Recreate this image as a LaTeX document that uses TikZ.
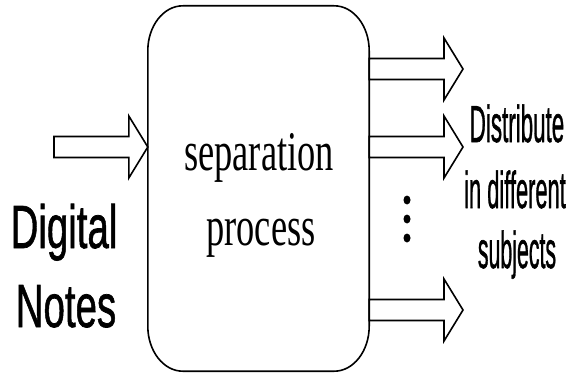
\documentclass[tikz,border=0pt]{standalone}
\usepackage{fontspec}
\usepackage{graphicx}
\setmainfont{Liberation Serif}
\newfontfamily\sansx[FakeBold=1.2]{Liberation Sans}
\usetikzlibrary{calc}
\tikzset{
  outline/.style={draw=black, line width=1.6pt, line join=round},
  blockarrow/.style={draw=black, fill=white, line width=1.6pt, line join=miter},
  lbl/.style={inner sep=0pt, anchor=base},
}
\newcommand\blkarrow[2]{%
  \draw[blockarrow] ($(#1)+(0,10.5)$) -- ($(#2)+(-19,10.5)$) -- ($(#2)+(-19,31)$)
    -- (#2) -- ($(#2)+(-19,-31)$) -- ($(#2)+(-19,-10.5)$) -- ($(#1)+(0,-10.5)$) -- cycle;}
\begin{document}
\begin{tikzpicture}[x=1pt,y=1pt]
\useasboundingbox (0,0) rectangle (570,376);
\fill[white] (0,0) rectangle (570,376);
% main box (node for naming; outline drawn with elliptical corners)
\node[inner sep=0pt, minimum width=221pt, minimum height=365pt] (sep) at (258.5,187.5) {};
\draw[outline] ($(sep.south west)+(0,45)$) -- ($(sep.north west)+(0,-45)$)
  arc[start angle=180, end angle=90, x radius=35pt, y radius=45pt]
  -- ($(sep.north east)+(-35,0)$)
  arc[start angle=90, end angle=0, x radius=35pt, y radius=45pt]
  -- ($(sep.south east)+(0,45)$)
  arc[start angle=0, end angle=-90, x radius=35pt, y radius=45pt]
  -- ($(sep.south west)+(35,0)$)
  arc[start angle=-90, end angle=-180, x radius=35pt, y radius=45pt] -- cycle;
\node[lbl] (t1) at (259,206) {\fontsize{56}{60}\selectfont\scalebox{0.65}[1]{separation}};
\node[lbl] (t2) at (261,131) {\fontsize{56}{60}\selectfont\scalebox{0.65}[1]{process}};
% input arrow
\coordinate (in) at (54,229);
\coordinate (intip) at (in -| sep.west);
\blkarrow{in}{intip}
% output arrows
\coordinate (o1) at (463,307);
\coordinate (o2) at (463,229);
\coordinate (o3) at (463,66);
\blkarrow{o1 -| sep.east}{o1}
\blkarrow{o2 -| sep.east}{o2}
\blkarrow{o3 -| sep.east}{o3}
% dots
\fill (407,176) ellipse [x radius=3.5pt, y radius=4.5pt];
\fill (407,157) ellipse [x radius=3.5pt, y radius=4.5pt];
\fill (407,138) ellipse [x radius=3.5pt, y radius=4.5pt];
% labels
\node[lbl] (dig) at (64,128) {\sansx\fontsize{61}{64}\selectfont\scalebox{0.63}[1]{Digital}};
\node[lbl] (not) at (66,49) {\sansx\fontsize{61}{64}\selectfont\scalebox{0.63}[1]{Notes}};
\node[lbl] (r1) at (517,234) {\sansx\fontsize{52}{55}\selectfont\scalebox{0.43}[1]{Distribute}};
\node[lbl] (r2) at (515,168) {\sansx\fontsize{52}{55}\selectfont\scalebox{0.42}[1]{in different}};
\node[lbl] (r3) at (517,108) {\sansx\fontsize{52}{55}\selectfont\scalebox{0.41}[1]{subjects}};
\end{tikzpicture}
\end{document}
